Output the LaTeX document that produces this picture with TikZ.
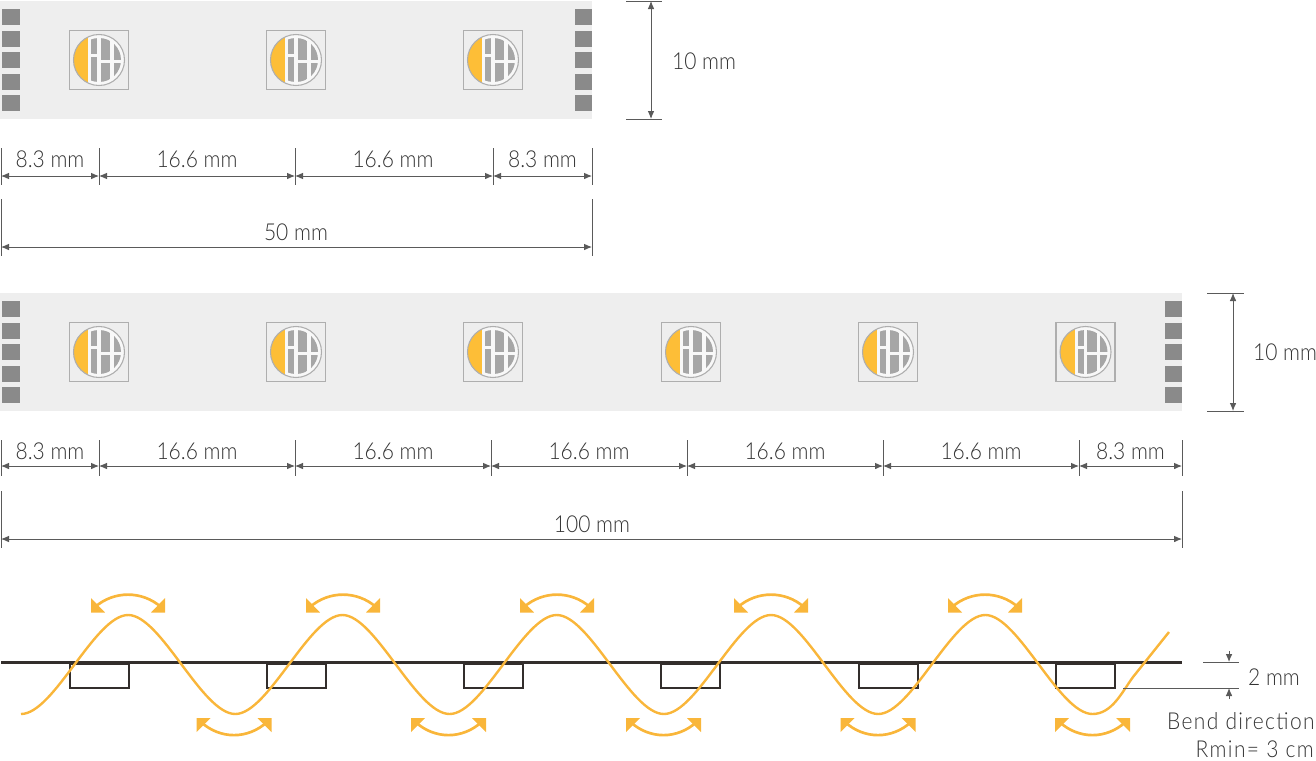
\documentclass[tikz,border=0pt]{standalone}
\usepackage{fontspec}
\setmainfont[FakeStretch=0.9]{Lato Light}
\newfontfamily\spaced[FakeStretch=0.9,LetterSpace=6]{Lato Light}
\usetikzlibrary{arrows.meta}
\definecolor{stripc}{HTML}{EEEEEE}
\definecolor{padc}{HTML}{8A8A8A}
\definecolor{ledg}{HTML}{A6A6A6}
\definecolor{ledb}{HTML}{AEAEAE}
\definecolor{ambr}{HTML}{FDBE37}
\definecolor{wavec}{HTML}{F9B63A}
\definecolor{blk}{HTML}{332E2C}
\definecolor{dimc}{HTML}{5A5A5A}
\definecolor{txtc}{HTML}{333333}
\tikzset{
  x=0.75pt,y=-0.75pt,
  strip/.style={fill=stripc,draw=none},
  padbox/.style={fill=padc,draw=none},
  tick/.style={draw=dimc,line width=0.75pt},
  dimline/.style={draw=dimc,line width=0.7pt,{Latex[length=6pt,width=5pt]}-{Latex[length=6pt,width=5pt]}},
  lab/.style={text=txtc,font=\fontsize{17.5pt}{19pt}\selectfont,inner sep=0pt},
  wave/.style={draw=wavec,line width=1.8pt},
  bendarc/.style={draw=wavec,line width=2pt},
  bendtip/.style={fill=wavec,draw=none},
  base/.style={draw=blk,line width=1.5pt},
}
% LED at centre (#1,#2)
\newcommand{\ledpkg}[2]{%
  \begin{scope}[shift={(#1,#2)}]
    \draw[ledb,line width=0.8pt,fill=stripc] (-29.5,-29.5) rectangle (29.5,29.5);
    \fill[white!60!stripc] (0,0) circle (25.5);
    \begin{scope}
      \clip (0,0) circle (25.5);
      \fill[ambr] (-26,-26) rectangle (-11,26);
    \end{scope}
    \begin{scope}
      \clip (0,0) circle (22);
      \fill[ledg] (-8,-26) rectangle (-1.7,-5.7);
      \fill[ledg] (-8,-3.3) rectangle (-1.7,26);
      \fill[ledg] (1.7,-26) rectangle (11,-0.3);
      \fill[ledg] (1.7,2.7) rectangle (11,26);
      \fill[ledg] (14.7,-26) rectangle (26,-0.3);
      \fill[ledg] (14.7,2.7) rectangle (26,26);
    \end{scope}
    \draw[ledb,line width=0.8pt] (0,0) circle (25.5);
  \end{scope}}
% column of pads, left edge #1, top edge #2
\newcommand{\padcol}[2]{%
  \foreach \k in {0,1,2,3,4}
    \fill[padbox] (#1,{#2+21.6*\k}) rectangle ++(17.5,16);}
% horizontal dimension: name, x1, x2, tick top, arrow y, tick bottom, label x, label y, text
\newcommand{\hdimen}[9]{%
  \coordinate (#1a) at (#2,#5);
  \coordinate (#1b) at (#3,#5);
  \draw[tick] (#2,#4) -- (#2,#6);
  \draw[tick] (#3,#4) -- (#3,#6);
  \draw[dimline] (#1a) -- (#1b);
  \node[lab] (#1t) at (#7,#8) {#9};}
\newcommand{\bendup}[1]{%
  \draw[bendarc] (#1-33,607) .. controls (#1-14,590.5) and (#1+14,590.5) .. (#1+33,607);
  \fill[bendtip] (#1-37,598) -- (#1-37,612.5) -- (#1-23,612.5) -- cycle;
  \fill[bendtip] (#1+37,598) -- (#1+37,612.5) -- (#1+23,612.5) -- cycle;}
\newcommand{\benddown}[1]{%
  \draw[bendarc] (#1-33,722) .. controls (#1-14,739.5) and (#1+14,739.5) .. (#1+33,722);
  \fill[bendtip] (#1-37.5,718) -- (#1-37.5,732) -- (#1-23.5,718) -- cycle;
  \fill[bendtip] (#1+37.5,718) -- (#1+37.5,732) -- (#1+23.5,718) -- cycle;}
\begin{document}
\begin{tikzpicture}
\useasboundingbox (0,0) rectangle (1316,760);
% strip 1
\fill[strip] (0,1) rectangle (592,119);
\padcol{2}{9}
\padcol{574.5}{9}
\foreach \c in {99,296,493} {\ledpkg{\c}{60}}
\draw[tick] (626,1) -- (662,1);
\draw[tick] (626,119) -- (662,119);
\coordinate (v1a) at (651,1);
\coordinate (v1b) at (651,119);
\draw[dimline] (v1a) -- (v1b);
\node[lab] (v1t) at (704,61) {10 mm};
\hdimen{a1}{1}{99}{148}{176}{185}{50}{159}{8.3 mm}
\hdimen{a2}{99}{295}{148}{176}{185}{197}{159}{16.6 mm}
\hdimen{a3}{295}{493}{148}{176}{185}{393}{159}{16.6 mm}
\hdimen{a4}{493}{592}{148}{176}{185}{542.5}{159}{8.3 mm}
\hdimen{a5}{1}{592}{199}{247}{256}{296}{232}{50 mm}
% strip 2
\fill[strip] (0,293) rectangle (1182,411);
\padcol{2}{301}
\padcol{1164.5}{301}
\foreach \c in {99,296,493,691,888,1085.5} {\ledpkg{\c}{352}}
\draw[tick] (1207,293) -- (1244,293);
\draw[tick] (1207,411) -- (1244,411);
\coordinate (v2a) at (1233,293);
\coordinate (v2b) at (1233,411);
\draw[dimline] (v2a) -- (v2b);
\node[lab] (v2t) at (1285,352) {10 mm};
\hdimen{b1}{1}{99}{440}{466}{476}{50}{451}{8.3 mm}
\hdimen{b2}{99}{295}{440}{466}{476}{197}{451}{16.6 mm}
\hdimen{b3}{295}{491}{440}{466}{476}{393}{451}{16.6 mm}
\hdimen{b4}{491}{687}{440}{466}{476}{589}{451}{16.6 mm}
\hdimen{b5}{687}{883}{440}{466}{476}{785}{451}{16.6 mm}
\hdimen{b6}{883}{1079}{440}{466}{476}{981}{451}{16.6 mm}
\hdimen{b7}{1079}{1182}{440}{466}{476}{1130.5}{451}{8.3 mm}
\hdimen{b8}{1}{1182}{491}{539}{548}{592}{524}{100 mm}
% side view
\foreach \c in {69.5,266.5,464,661,858.5,1056}
  \draw[base] (\c,664) rectangle ++(59,24);
\draw[base,line width=1.9pt] (1,662.5) -- (1182,662.5);
\draw[wave] (21,714)
  \foreach \xb in {21,235.3,449.6,663.9,878.2} {
    .. controls (\xb+33,714) and (\xb+74,615) .. (\xb+107.15,615)
    .. controls (\xb+140,615) and (\xb+181,714) .. (\xb+214.3,714)
  }
  .. controls (1112,714) and (1122,692) .. (1133,677) -- (1169,632);
\foreach \c in {128,343,557,771,985} {\bendup{\c}}
\foreach \c in {234,448.5,663.5,878,1092.5} {\benddown{\c}}
% 2 mm
\draw[tick] (1203,662) -- (1239,662);
\draw[tick] (1123,688) -- (1239,688);
\coordinate (ht) at (1229,651);
\coordinate (hte) at (1229,662);
\coordinate (hb) at (1229,699);
\coordinate (hbe) at (1229,688);
\draw[draw=dimc,line width=0.7pt,-{Latex[length=6pt,width=5pt]}] (ht) -- (hte);
\draw[draw=dimc,line width=0.7pt,-{Latex[length=6pt,width=5pt]}] (hb) -- (hbe);
\node[lab] (mm2) at (1274,677) {2 mm};
\node[lab,anchor=east] (bend) at (1315,721) {\spaced Bend direction};
\node[lab,anchor=east] (rmin) at (1314,749) {\spaced Rmin= 3 cm};
\end{tikzpicture}
\end{document}
